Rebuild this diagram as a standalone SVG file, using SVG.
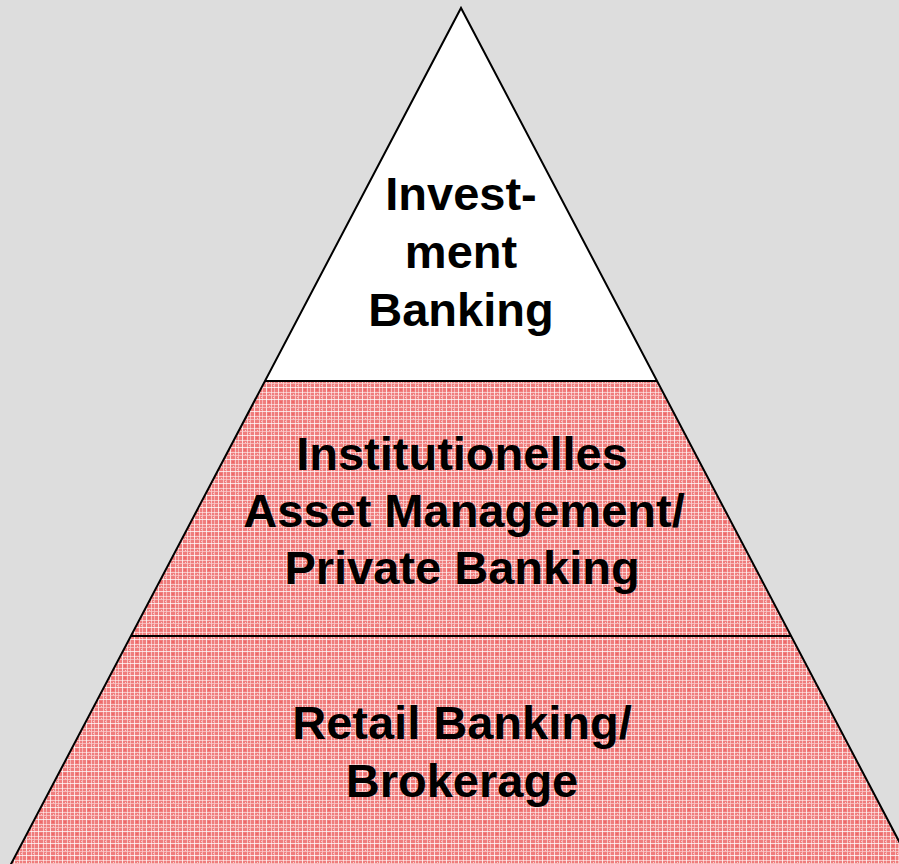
<svg xmlns="http://www.w3.org/2000/svg" width="899" height="864" viewBox="0 0 899 864">
  <defs>
    <pattern id="plaid" width="12" height="12" patternUnits="userSpaceOnUse">
      <rect width="12" height="12" fill="#f38888"/>
      <rect x="0" y="0" width="12" height="12" fill="#ec6f6f" opacity="0.45"/>
      <rect x="2" y="0" width="1" height="12" fill="#ffffff" opacity="0.75"/>
      <rect x="7" y="0" width="1" height="12" fill="#ffffff" opacity="0.55"/>
      <rect x="10" y="0" width="1" height="12" fill="#fbd0d0" opacity="0.7"/>
      <rect x="0" y="3" width="12" height="1" fill="#ffffff" opacity="0.75"/>
      <rect x="0" y="8" width="12" height="1" fill="#ffffff" opacity="0.55"/>
      <rect x="0" y="11" width="12" height="1" fill="#fbd0d0" opacity="0.7"/>
      <rect x="4" y="5" width="2" height="2" fill="#f06060" opacity="0.7"/>
      <rect x="9" y="1" width="1" height="1" fill="#ffffff" opacity="0.6"/>
      <rect x="5" y="10" width="1" height="1" fill="#ffffff" opacity="0.6"/>
    </pattern>
    <style>
      .lbl { font-family: "Liberation Sans", Arial, sans-serif; font-weight: bold; font-size: 47px; fill: #000000; text-anchor: middle; }
      .edge { fill: none; stroke: #000000; stroke-width: 2; }
    </style>
  </defs>
  <rect width="899" height="864" fill="#dddddd"/>
  <g id="tier-top">
    <polygon points="461,8 657,381 265,381" fill="#ffffff"/>
    <text class="lbl" x="461" y="210">Invest-</text>
    <text class="lbl" x="461" y="268">ment</text>
    <text class="lbl" x="461" y="326">Banking</text>
  </g>
  <g id="tier-middle">
    <polygon points="265,381 657,381 791,636 131,636" fill="url(#plaid)"/>
    <text class="lbl" x="462" y="470">Institutionelles</text>
    <text class="lbl" x="464" y="527">Asset Management/</text>
    <text class="lbl" x="462" y="584">Private Banking</text>
  </g>
  <g id="tier-bottom">
    <polygon points="131,636 791,636 912,866 10,866" fill="url(#plaid)"/>
    <text class="lbl" x="462" y="739">Retail Banking/</text>
    <text class="lbl" x="462" y="797">Brokerage</text>
  </g>
  <g id="connectors">
    <polyline class="edge" points="10,866 461,8 912,866"/>
    <line class="edge" x1="265" y1="381" x2="657" y2="381"/>
    <line class="edge" x1="131" y1="636" x2="791" y2="636"/>
  </g>
</svg>
